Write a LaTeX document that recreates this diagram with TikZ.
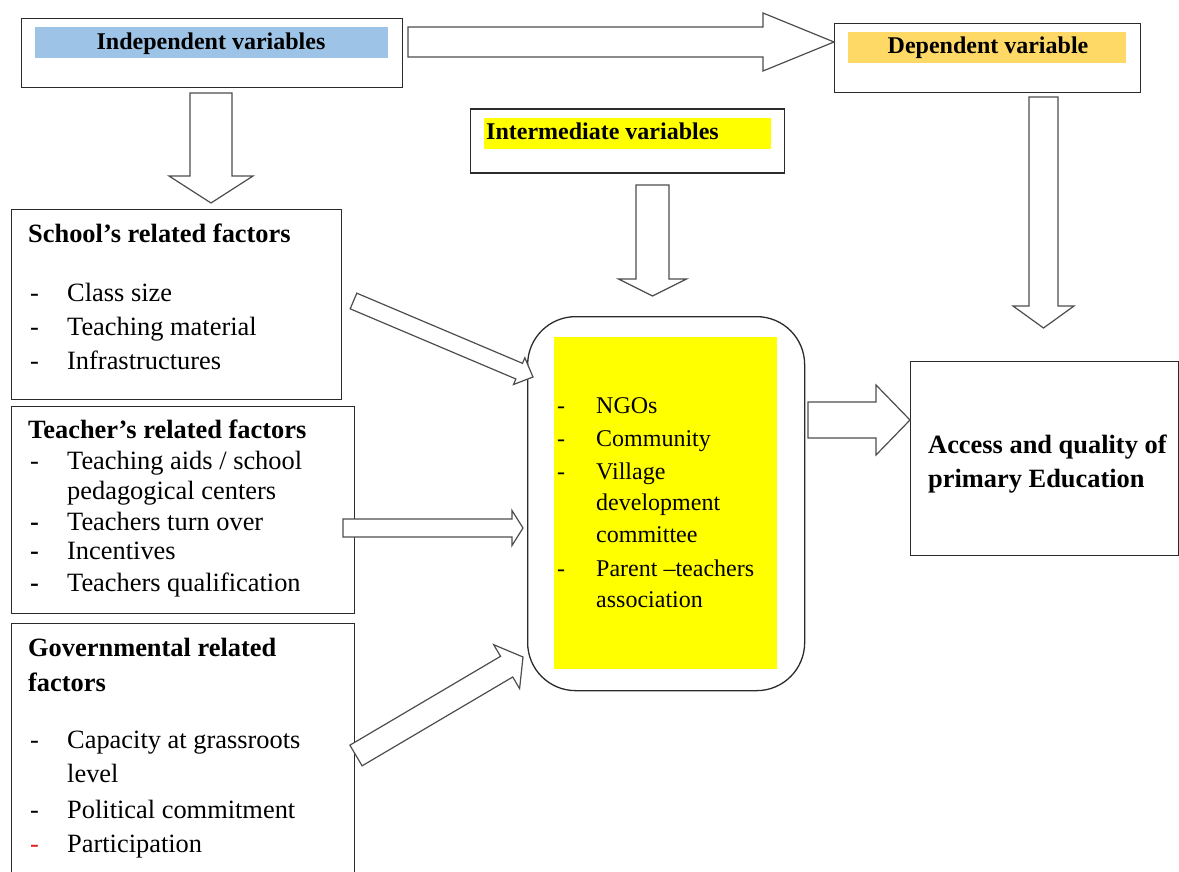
\documentclass[tikz,border=0pt]{standalone}
\usepackage{fontspec}
\setmainfont{Liberation Serif}
\definecolor{bandblue}{HTML}{9DC3E6}
\definecolor{bandgold}{HTML}{FFD966}
\definecolor{bandyellow}{HTML}{FFFF00}
\definecolor{boxc}{HTML}{2B2B2B}
\definecolor{arrc}{HTML}{4D4D4D}
\definecolor{dashred}{HTML}{E02020}
\tikzset{
  frame/.style={draw=boxc, line width=1.3pt, fill=white, inner sep=0pt, anchor=north west},
  band/.style={draw=none, inner sep=0pt, anchor=north west},
  blockarrow/.style={draw=arrc, line width=1.2pt, fill=white, line join=miter},
  body/.style={anchor=base west, inner sep=0pt, font=\fontsize{26.4}{30}\selectfont},
  bodyb/.style={anchor=base west, inner sep=0pt, font=\bfseries\fontsize{26.4}{30}\selectfont},
  hdr/.style={inner sep=0pt, font=\bfseries\fontsize{24}{28}\selectfont},
  mid/.style={anchor=base west, inner sep=0pt, font=\fontsize{24}{28}\selectfont},
}
\newcommand{\barrow}[7]{%
  \pgfmathsetmacro\bang{atan2(#2-#4,#3-#1)}%
  \pgfmathsetmacro\blen{veclen(#3-#1,#4-#2)}%
  \pgfmathsetmacro\bhb{\blen-#7}%
  \pgfmathsetmacro\bs{#5/2}%
  \pgfmathsetmacro\bh{#6/2}%
  \begin{scope}[shift={(#1,#2)},rotate=\bang]
    \draw[blockarrow] (0,-\bs) -- (\bhb,-\bs) -- (\bhb,-\bh) -- (\blen,0) -- (\bhb,\bh) -- (\bhb,\bs) -- (0,\bs) -- cycle;
  \end{scope}}
\begin{document}
\begin{tikzpicture}[x=1pt,y=-1pt]
\useasboundingbox (0,0) rectangle (1179,872);
\clip (0,0) rectangle (1179,872);
\fill[white] (0,0) rectangle (1179,872);

% header boxes
\node[frame, minimum width=381, minimum height=69] (indep) at (21,18) {};
\node[band, fill=bandblue, minimum width=353, minimum height=31] (indepband) at (35,27) {};
\node[hdr, anchor=base] (indeptxt) at (211,50) {Independent variables};

\node[frame, minimum width=306, minimum height=69] (dep) at (834,23) {};
\node[band, fill=bandgold, minimum width=278, minimum height=31] (depband) at (848,32) {};
\node[hdr, anchor=base] (deptxt) at (988,54) {Dependent variable};

\node[frame, minimum width=314, minimum height=64] (inter) at (470,108.5) {};
\node[band, fill=bandyellow, minimum width=287, minimum height=31] (interband) at (484,117.5) {};
\node[hdr, anchor=base west] (intertxt) at (486,140) {Intermediate variables};

% factor boxes
\node[frame, minimum width=330, minimum height=190] (school) at (11,209) {};
\node[frame, minimum width=343, minimum height=207.5] (teacher) at (11,405.5) {};
\node[frame, minimum width=343, minimum height=270] (gov) at (11,622.5) {};

% middle box
\node[frame, rounded corners=48pt, minimum width=277, minimum height=374] (midbox) at (527,316) {};
\node[band, fill=bandyellow, minimum width=223, minimum height=332] (midband) at (553.5,337) {};

% outcome box
\node[frame, minimum width=268, minimum height=194] (access) at (910,361) {};

% school texts
\node[bodyb] (s0) at (28,243) {School’s related factors};
\node[body] (s1d) at (30,301) {-};
\node[body] (s1) at (67,301) {Class size};
\node[body] (s2d) at (30,335) {-};
\node[body] (s2) at (67,335) {Teaching material};
\node[body] (s3d) at (30,369) {-};
\node[body] (s3) at (67,369) {Infrastructures};

% teacher texts
\node[bodyb] (t0) at (28,438.5) {Teacher’s related factors};
\node[body] (t1d) at (30,469) {-};
\node[body] (t1) at (67,469) {Teaching aids / school};
\node[body] (t1b) at (67,499) {pedagogical centers};
\node[bodyb] (t2d) at (30,530) {-};
\node[body] (t2) at (67,530) {Teachers turn over};
\node[bodyb] (t3d) at (30,559) {-};
\node[body] (t3) at (67,559) {Incentives};
\node[bodyb] (t4d) at (30,591) {-};
\node[body] (t4) at (67,591) {Teachers qualification};

% governmental texts
\node[bodyb] (g0) at (28,656) {Governmental related};
\node[bodyb] (g0b) at (28,691) {factors};
\node[body] (g1d) at (30,748) {-};
\node[body] (g1) at (67,748) {Capacity at grassroots};
\node[body] (g1b) at (67,782) {level};
\node[body] (g2d) at (30,818) {-};
\node[body] (g2) at (67,818) {Political commitment};
\node[body, text=dashred] (g3d) at (30,852) {-};
\node[body] (g3) at (67,852) {Participation};

% intermediate texts
\node[mid] (m1d) at (557,413) {-};
\node[mid] (m1) at (596,413) {NGOs};
\node[mid] (m2d) at (557,446.5) {-};
\node[mid] (m2) at (596,446.5) {Community};
\node[mid] (m3d) at (557,479) {-};
\node[mid] (m3) at (596,479) {Village};
\node[mid] (m3b) at (596,510.5) {development};
\node[mid] (m3c) at (596,542) {committee};
\node[mid] (m4d) at (557,576) {-};
\node[mid] (m4) at (596,576) {Parent –teachers};
\node[mid] (m4b) at (596,607) {association};

% outcome text
\node[bodyb] (a1) at (928,453) {Access and quality of};
\node[bodyb] (a2) at (928,487) {primary Education};

% block arrows
\barrow{408}{42}{834}{42}{30}{58}{71}
\barrow{211}{93}{211}{203}{42}{84}{27}
\barrow{652.5}{185}{652.5}{296}{33}{68}{17}
\barrow{1043.5}{97}{1043.5}{328}{29}{61}{22}
\barrow{353.5}{301}{533}{377}{17}{29}{15}
\barrow{343}{528}{523}{528}{18}{35}{11}
\barrow{356}{755.5}{523}{657}{24}{51}{19}
\barrow{808}{420}{910}{420}{36}{70}{34}
\end{tikzpicture}
\end{document}
